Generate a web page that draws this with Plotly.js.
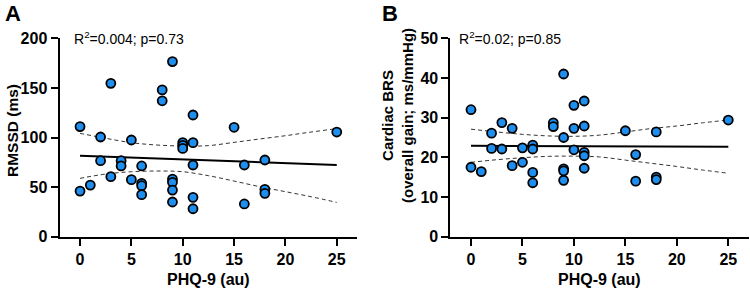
<!DOCTYPE html>
<html>
<head>
<meta charset="utf-8">
<script src="https://cdn.plot.ly/plotly-3.0.1.min.js"></script>
<style>
html,body{margin:0;padding:0;background:#fff;}
#chart{width:750px;height:291px;}
</style>
</head>
<body>
<div id="chart"></div>
<script>
// ---- Panel A: RMSSD vs PHQ-9 ----
const phqA = [0,0,1,2,2,3,3,4,4,5,5,6,6,6,6,8,8,9,9,9,9,9,10,10,10,11,11,11,11,11,15,16,16,18,18,18,25];
const rmssd = [111,46,52,100.5,76.6,154.6,60.5,76.6,71.3,97.5,57.5,71.3,53.8,51.4,42.4,148,137,176.5,58,54.8,47,35,94.8,92,89,122.7,94.8,72.3,39.7,28.2,110.3,72.3,33,77.3,47.7,43.7,105.5];
const fitXA = [0,25];
const fitYA = [81.7,72.2];
const bandX = [0,2.5,5,7.5,10,12.5,15,17.5,20,22.5,25];
const upperA = [104.2,99.2,94.8,92.4,91.4,91.8,95.1,98.5,101.8,105.5,108.9];
const lowerA = [58.8,63.2,65.5,66.2,65.5,61.5,56.1,50.4,45.4,40.3,34.6];

// ---- Panel B: Cardiac BRS vs PHQ-9 ----
const phqB = [0,0,1,2,2,3,3,4,4,5,5,6,6,6,6,8,8,9,9,9,9,9,10,10,10,11,11,11,11,11,15,16,16,18,18,18,25];
const brs = [32,17.5,16.4,26.1,22.25,28.75,22.1,27.3,17.9,22.4,18.75,23.1,22.1,16.2,13.6,28.7,27.75,41,25,17.1,16.6,14.2,33.1,27.3,21.9,34.2,27.9,21.25,20.4,17.25,26.7,20.7,14,26.4,15,14.4,29.4];
const fitXB = [0,25];
const fitYB = [22.9,22.7];
const upperB = [27.1,26.4,25.8,25.4,25.3,25.6,26.4,27.25,27.9,28.7,29.4];
const lowerB = [18.75,19.4,19.9,20.25,20.3,20.1,19.3,18.5,17.7,16.8,16.0];

const xTicks = [0,5,10,15,20,25];
const yTicksA = [0,50,100,150,200];
const yTicksB = [0,10,20,30,40,50];
const statsA = 'R<sup>2</sup>=0.004; p=0.73';
const statsB = 'R<sup>2</sup>=0.02; p=0.85';

const W = 750, H = 291;
const px = v => v / W;
const py = v => 1 - v / H;

const FONT = 'Liberation Sans, Arial, Helvetica, sans-serif';
const markerStyle = {size: 9, color: '#1F8FEF', line: {color: '#000', width: 1.8}};
const dashStyle = {color: '#333', width: 1, dash: '4px,3px', shape: 'spline'};

const traces = [
  {x: bandX, y: upperA, mode: 'lines', line: dashStyle, xaxis: 'x', yaxis: 'y', hoverinfo: 'skip'},
  {x: bandX, y: lowerA, mode: 'lines', line: dashStyle, xaxis: 'x', yaxis: 'y', hoverinfo: 'skip'},
  {x: fitXA, y: fitYA, mode: 'lines', line: {color: '#000', width: 2}, xaxis: 'x', yaxis: 'y'},
  {x: phqA, y: rmssd, mode: 'markers', marker: markerStyle, xaxis: 'x', yaxis: 'y', cliponaxis: false},
  {x: bandX, y: upperB, mode: 'lines', line: dashStyle, xaxis: 'x2', yaxis: 'y2', hoverinfo: 'skip'},
  {x: bandX, y: lowerB, mode: 'lines', line: dashStyle, xaxis: 'x2', yaxis: 'y2', hoverinfo: 'skip'},
  {x: fitXB, y: fitYB, mode: 'lines', line: {color: '#000', width: 2}, xaxis: 'x2', yaxis: 'y2'},
  {x: phqB, y: brs, mode: 'markers', marker: markerStyle, xaxis: 'x2', yaxis: 'y2', cliponaxis: false}
];

const tickFont = {family: FONT, size: 16, color: '#000', weight: 'bold'};
const baseAxis = {
  showline: true, linewidth: 2, linecolor: '#000',
  ticks: 'outside', ticklen: 7, tickwidth: 2, tickcolor: '#000',
  showgrid: false, zeroline: false, fixedrange: true,
  tickfont: tickFont
};
const yDom = [py(236.7), py(38.3)];

const layout = {
  width: W, height: H,
  margin: {l: 0, r: 0, t: 0, b: 0},
  paper_bgcolor: '#fff', plot_bgcolor: '#fff',
  showlegend: false,
  font: {family: FONT, color: '#000'},
  xaxis: Object.assign({}, baseAxis, {domain: [px(59.5), px(357.3)], range: [-2, 27], tickvals: xTicks, anchor: 'y'}),
  yaxis: Object.assign({}, baseAxis, {domain: yDom, range: [0, 200], tickvals: yTicksA, anchor: 'x'}),
  xaxis2: Object.assign({}, baseAxis, {domain: [px(450.4), px(748.9)], range: [-2, 27], tickvals: xTicks, anchor: 'y2'}),
  yaxis2: Object.assign({}, baseAxis, {domain: yDom, range: [0, 50], tickvals: yTicksB, anchor: 'x2'}),
  annotations: [
    {text: 'A', x: px(12.5), y: py(13.5), xref: 'paper', yref: 'paper', showarrow: false, xanchor: 'center', yanchor: 'middle', font: {family: FONT, size: 22, weight: 'bold', color: '#000'}},
    {text: 'B', x: px(389.5), y: py(13.5), xref: 'paper', yref: 'paper', showarrow: false, xanchor: 'center', yanchor: 'middle', font: {family: FONT, size: 22, weight: 'bold', color: '#000'}},
    {text: statsA, x: px(72), y: py(38), xref: 'paper', yref: 'paper', showarrow: false, xanchor: 'left', yanchor: 'middle', font: {family: FONT, size: 14, color: '#000'}},
    {text: statsB, x: px(457), y: py(38), xref: 'paper', yref: 'paper', showarrow: false, xanchor: 'left', yanchor: 'middle', font: {family: FONT, size: 14, color: '#000'}},
    {text: 'PHQ-9 (au)', x: px(208.4), y: py(279.5), xref: 'paper', yref: 'paper', showarrow: false, xanchor: 'center', yanchor: 'middle', font: {family: FONT, size: 16, weight: 'bold', color: '#000'}},
    {text: 'PHQ-9 (au)', x: px(599.6), y: py(279.5), xref: 'paper', yref: 'paper', showarrow: false, xanchor: 'center', yanchor: 'middle', font: {family: FONT, size: 16, weight: 'bold', color: '#000'}},
    {text: 'RMSSD (ms)', x: px(12), y: py(131), xref: 'paper', yref: 'paper', showarrow: false, textangle: -90, xanchor: 'center', yanchor: 'middle', font: {family: FONT, size: 15.5, weight: 'bold', color: '#000'}},
    {text: 'Cardiac BRS<br>(overall gain; ms/mmHg)', x: px(398), y: py(115), xref: 'paper', yref: 'paper', showarrow: false, textangle: -90, xanchor: 'center', yanchor: 'middle', font: {family: FONT, size: 15, weight: 'bold', color: '#000'}}
  ]
};

Plotly.newPlot('chart', traces, layout, {displayModeBar: false, staticPlot: true});
</script>
</body>
</html>
